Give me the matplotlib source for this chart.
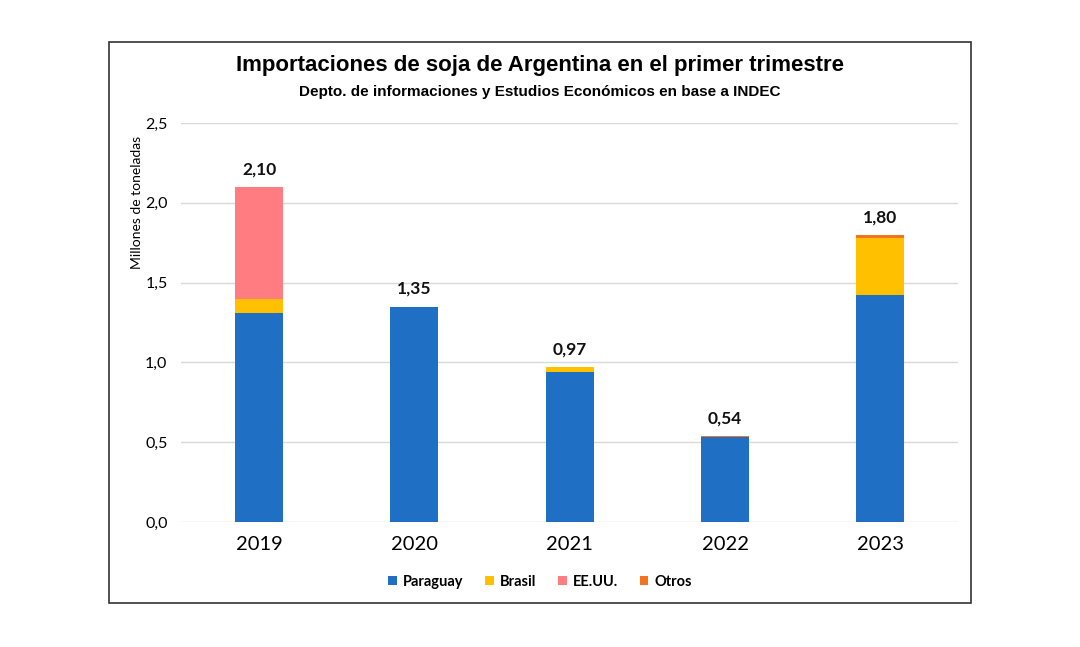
import numpy as np
import matplotlib.pyplot as plt
from matplotlib.patches import Rectangle

years = ['2019', '2020', '2021', '2022', '2023']
paraguay = [1.31, 1.35, 0.94, 0.53, 1.42]
brasil = [0.09, 0.00, 0.03, 0.00, 0.36]
eeuu = [0.70, 0.00, 0.00, 0.00, 0.00]
otros = [0.00, 0.00, 0.00, 0.01, 0.02]
totales = ['2,10', '1,35', '0,97', '0,54', '1,80']

colores = ['#1f6fc5', '#ffc000', '#ff7c80', '#f47321']
nombres = ['Paraguay', 'Brasil', 'EE.UU.', 'Otros']

plt.rcParams['font.family'] = ['Lato', 'DejaVu Sans']

fig = plt.figure(figsize=(10.8, 6.47), dpi=100)
fig.patches.append(Rectangle((109 / 1080, 1 - 603 / 647), 862 / 1080, 561 / 647,
                             transform=fig.transFigure, fill=False,
                             edgecolor='#333333', linewidth=1.2))

ax = fig.add_axes([0.168, 0.193, 0.719, 0.617])
x = np.arange(len(years))
w = 0.31
bottom = np.zeros(len(years))
for serie, c, n in zip([paraguay, brasil, eeuu, otros], colores, nombres):
    ax.bar(x, serie, w, bottom=bottom, color=c, label=n, zorder=3)
    bottom += np.array(serie)

for i in range(len(years)):
    ax.text(x[i], bottom[i] + 0.06, totales[i], ha='center', va='bottom',
            fontsize=12.5, fontweight='bold', color='#111111')

ax.set_xlim(-0.5, 4.5)
ax.set_ylim(0, 2.5)
ax.set_yticks([0, 0.5, 1.0, 1.5, 2.0, 2.5])
ax.set_yticklabels(['0,0', '0,5', '1,0', '1,5', '2,0', '2,5'], fontsize=11.5)
ax.set_xticks(x)
ax.set_xticklabels(years, fontsize=14.5)
ax.tick_params(length=0, pad=10)
ax.tick_params(axis='y', pad=10)
ax.grid(axis='y', color='#d9d9d9', linewidth=1, zorder=0)
for s in ax.spines.values():
    s.set_visible(False)
ax.set_ylabel('Millones de toneladas', fontsize=10)
ax.yaxis.set_label_coords(-0.05, 0.80)

fig.text(0.5, 1 - 66 / 647, 'Importaciones de soja de Argentina en el primer trimestre',
         ha='center', va='center', fontsize=16, fontweight='bold',
         family=['Liberation Sans', 'DejaVu Sans'])
fig.text(0.5, 1 - 92 / 647, 'Depto. de informaciones y Estudios Económicos en base a INDEC',
         ha='center', va='center', fontsize=11, fontweight='bold',
         family=['Liberation Sans', 'DejaVu Sans'])

leg = fig.legend(loc='center', bbox_to_anchor=(0.5, 1 - 582 / 647), ncol=4,
                 frameon=False, handlelength=0.6, handleheight=0.6,
                 handletextpad=0.4, columnspacing=1.5,
                 prop={'weight': 'bold', 'size': 10.5})

fig.savefig('out.png', dpi=100)
